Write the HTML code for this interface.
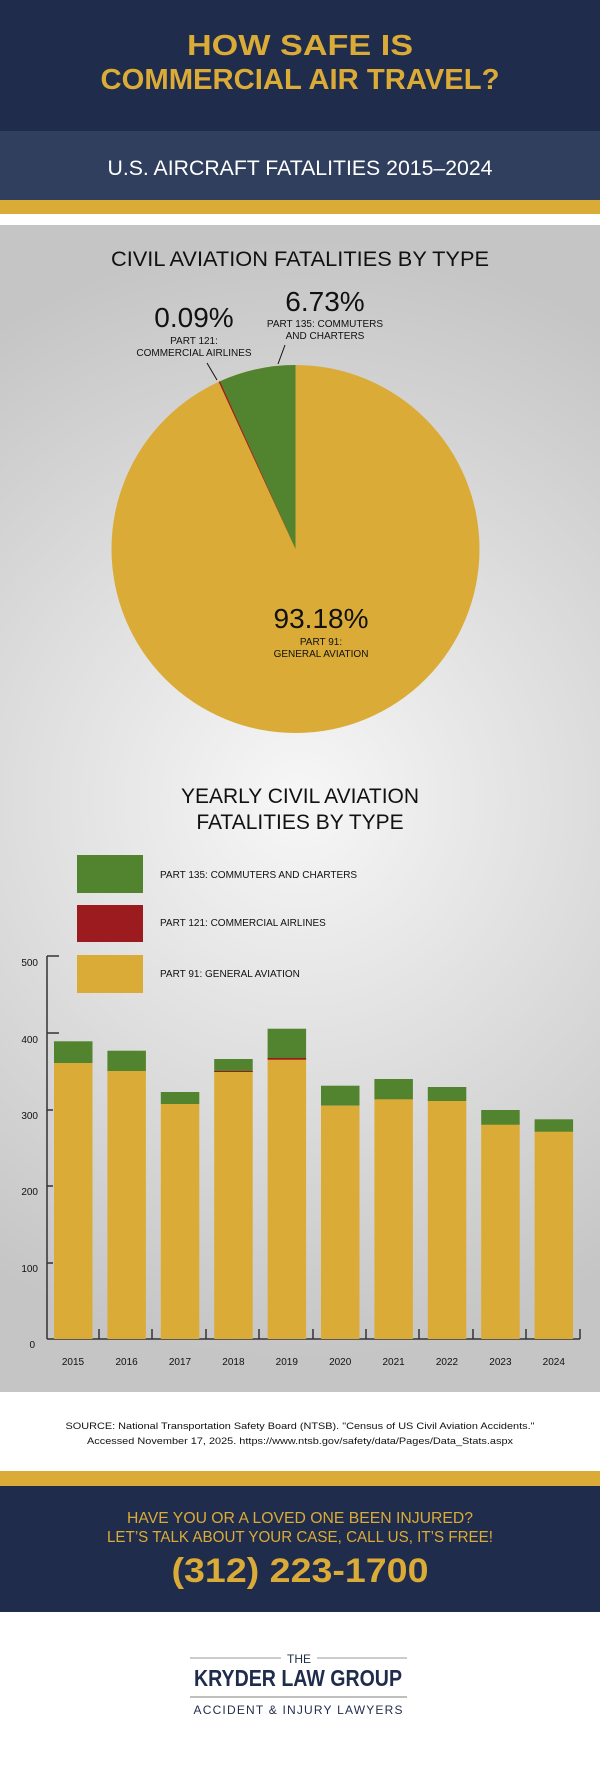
<!DOCTYPE html>
<html><head><meta charset="utf-8"><style>
html,body{margin:0;padding:0;background:#fff}
svg{display:block}
text{font-family:"Liberation Sans",sans-serif}
</style></head><body>
<svg width="600" height="1767" viewBox="0 0 600 1767" xmlns="http://www.w3.org/2000/svg">
<defs>
<radialGradient id="g" cx="300" cy="800" r="560" gradientUnits="userSpaceOnUse">
<stop offset="0" stop-color="#f7f7f7"/><stop offset="1" stop-color="#c6c5c6"/>
</radialGradient>
</defs>
<rect x="0" y="0" width="600" height="131" fill="#1f2c4c"/>
<rect x="0" y="131" width="600" height="69" fill="#303f5e"/>
<rect x="0" y="200" width="600" height="14" fill="#dbab37"/>
<rect x="0" y="225" width="600" height="167" fill="#c8c7c8"/>
<rect x="0" y="225" width="600" height="1167" fill="url(#g)"/>
<g fill="#dbab37" font-weight="bold" font-size="29" text-anchor="middle">
<text x="300" y="55" textLength="226" lengthAdjust="spacingAndGlyphs">HOW SAFE IS</text>
<text x="300" y="89" textLength="399" lengthAdjust="spacingAndGlyphs">COMMERCIAL AIR TRAVEL?</text>
</g>
<text x="300" y="175" fill="#fff" font-size="21" text-anchor="middle" textLength="385" lengthAdjust="spacingAndGlyphs">U.S. AIRCRAFT FATALITIES 2015–2024</text>
<text x="300" y="266" fill="#111" font-size="21" text-anchor="middle" textLength="378" lengthAdjust="spacingAndGlyphs">CIVIL AVIATION FATALITIES BY TYPE</text>
<!-- pie -->
<circle cx="295.5" cy="549" r="184" fill="#dbab37"/>
<path d="M295.5 549 L295.5 365 A184 184 0 0 0 220 381.2 Z" fill="#52832f"/>
<path d="M295.5 549 L220 381.2 A184 184 0 0 0 218.6 381.8 Z" fill="#9b1b1f"/>
<line x1="207" y1="363" x2="217" y2="380" stroke="#111" stroke-width="1"/>
<line x1="285" y1="345" x2="278" y2="364" stroke="#111" stroke-width="1"/>
<g fill="#111" text-anchor="middle">
<text x="194" y="327" font-size="28">0.09%</text>
<text x="194" y="344" font-size="10">PART 121:</text>
<text x="194" y="356" font-size="10">COMMERCIAL AIRLINES</text>
<text x="325" y="311" font-size="28">6.73%</text>
<text x="325" y="327" font-size="10">PART 135: COMMUTERS</text>
<text x="325" y="339" font-size="10">AND CHARTERS</text>
<text x="321" y="628" font-size="28">93.18%</text>
<text x="321" y="645" font-size="10">PART 91:</text>
<text x="321" y="657" font-size="10">GENERAL AVIATION</text>
<text x="300" y="803" font-size="21">YEARLY CIVIL AVIATION</text>
<text x="300" y="829" font-size="21">FATALITIES BY TYPE</text>
</g>
<!-- legend -->
<rect x="77" y="855" width="66" height="38" fill="#52832f"/>
<rect x="77" y="905" width="66" height="37" fill="#9b1b1f"/>
<rect x="77" y="955" width="66" height="38" fill="#dbab37"/>
<g fill="#111" font-size="10">
<text x="160" y="878">PART 135: COMMUTERS AND CHARTERS</text>
<text x="160" y="926">PART 121: COMMERCIAL AIRLINES</text>
<text x="160" y="977">PART 91: GENERAL AVIATION</text>
</g>
<!-- axes -->
<g stroke="#333" stroke-width="1.5" fill="none">
<line x1="47" y1="956" x2="47" y2="1339"/>
<line x1="47" y1="1339" x2="580" y2="1339"/>
<line x1="47" y1="956" x2="59" y2="956"/>
<line x1="47" y1="1033" x2="59" y2="1033"/>
<line x1="47" y1="1110" x2="53" y2="1110"/>
<line x1="47" y1="1186" x2="53" y2="1186"/>
<line x1="47" y1="1263" x2="53" y2="1263"/>
<line x1="99" y1="1329" x2="99" y2="1339"/><line x1="152" y1="1329" x2="152" y2="1339"/>
<line x1="206" y1="1329" x2="206" y2="1339"/><line x1="259" y1="1329" x2="259" y2="1339"/>
<line x1="313" y1="1329" x2="313" y2="1339"/><line x1="366" y1="1329" x2="366" y2="1339"/>
<line x1="419" y1="1329" x2="419" y2="1339"/><line x1="473" y1="1329" x2="473" y2="1339"/>
<line x1="526" y1="1329" x2="526" y2="1339"/><line x1="580" y1="1329" x2="580" y2="1339"/>
</g>
<g fill="#111" font-size="10" text-anchor="end">
<text x="38" y="966">500</text><text x="38" y="1043">400</text><text x="38" y="1119">300</text>
<text x="38" y="1195">200</text><text x="38" y="1272">100</text><text x="35" y="1348">0</text>
</g>
<!-- bars -->
<g fill="#52832f">
<rect x="54" y="1041.3" width="38.5" height="22"/>
<rect x="107.4" y="1050.7" width="38.5" height="21"/>
<rect x="160.8" y="1092" width="38.5" height="12"/>
<rect x="214.2" y="1059" width="38.5" height="13"/>
<rect x="267.6" y="1028.7" width="38.5" height="30"/>
<rect x="321" y="1085.7" width="38.5" height="20"/>
<rect x="374.4" y="1079" width="38.5" height="21"/>
<rect x="427.8" y="1087" width="38.5" height="14"/>
<rect x="481.2" y="1110" width="38.5" height="15"/>
<rect x="534.6" y="1119.3" width="38.5" height="13"/>
</g>
<g fill="#9b1b1f">
<rect x="214.2" y="1071" width="38.5" height="1.2"/>
<rect x="267.6" y="1058" width="38.5" height="2"/>
</g>
<g fill="#dbab37">
<rect x="54" y="1063" width="38.5" height="276"/>
<rect x="107.4" y="1071" width="38.5" height="268"/>
<rect x="160.8" y="1104" width="38.5" height="235"/>
<rect x="214.2" y="1072" width="38.5" height="267"/>
<rect x="267.6" y="1059.7" width="38.5" height="279.3"/>
<rect x="321" y="1105.7" width="38.5" height="233.3"/>
<rect x="374.4" y="1099.3" width="38.5" height="239.7"/>
<rect x="427.8" y="1101" width="38.5" height="238"/>
<rect x="481.2" y="1124.7" width="38.5" height="214.3"/>
<rect x="534.6" y="1131.7" width="38.5" height="207.3"/>
</g>
<g fill="#111" font-size="10" text-anchor="middle">
<text x="73" y="1365">2015</text><text x="126.6" y="1365">2016</text><text x="180" y="1365">2017</text>
<text x="233.4" y="1365">2018</text><text x="286.8" y="1365">2019</text><text x="340.2" y="1365">2020</text>
<text x="393.6" y="1365">2021</text><text x="447" y="1365">2022</text><text x="500.4" y="1365">2023</text>
<text x="553.8" y="1365">2024</text>
</g>
<!-- source -->
<g fill="#111" font-size="9.5" text-anchor="middle">
<text x="300" y="1429" textLength="469" lengthAdjust="spacingAndGlyphs">SOURCE: National Transportation Safety Board (NTSB). "Census of US Civil Aviation Accidents."</text>
<text x="300" y="1444" textLength="426" lengthAdjust="spacingAndGlyphs">Accessed November 17, 2025. https://www.ntsb.gov/safety/data/Pages/Data_Stats.aspx</text>
</g>
<rect x="0" y="1471" width="600" height="15" fill="#dbab37"/>
<rect x="0" y="1486" width="600" height="126" fill="#1f2c4c"/>
<g fill="#dbab37" text-anchor="middle">
<text x="300" y="1523" font-size="16" textLength="346" lengthAdjust="spacingAndGlyphs">HAVE YOU OR A LOVED ONE BEEN INJURED?</text>
<text x="300" y="1542" font-size="16" textLength="386" lengthAdjust="spacingAndGlyphs">LET’S TALK ABOUT YOUR CASE, CALL US, IT’S FREE!</text>
<text x="300" y="1582" font-size="34" font-weight="bold" textLength="257" lengthAdjust="spacingAndGlyphs">(312) 223-1700</text>
</g>
<!-- logo -->
<line x1="190" y1="1658" x2="281" y2="1658" stroke="#999" stroke-width="1"/>
<line x1="317" y1="1658" x2="407" y2="1658" stroke="#999" stroke-width="1"/>
<text x="299" y="1663" font-size="12" fill="#1f2c4c" text-anchor="middle">THE</text>
<text x="298" y="1686" font-size="23" font-weight="bold" fill="#1f2c4c" text-anchor="middle" textLength="208" lengthAdjust="spacingAndGlyphs">KRYDER LAW GROUP</text>
<line x1="190" y1="1697" x2="407" y2="1697" stroke="#aaa" stroke-width="1.5"/>
<text x="298" y="1714" font-size="12" fill="#1f2c4c" text-anchor="middle" textLength="209" lengthAdjust="spacing">ACCIDENT &amp; INJURY LAWYERS</text>
</svg>
</body></html>
